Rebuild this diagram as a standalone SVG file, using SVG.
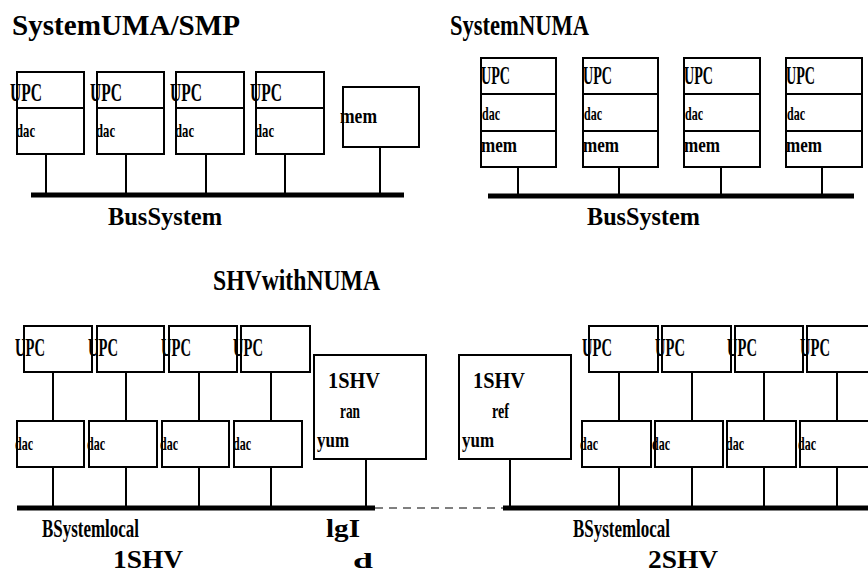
<svg xmlns="http://www.w3.org/2000/svg" width="868" height="577" viewBox="0 0 868 577">
<style>
.b{fill:#fff;stroke:#000;stroke-width:2}
.l{stroke:#000;stroke-width:2;fill:none}
.bus{stroke:#000;stroke-width:5;fill:none}
.d{stroke:#000;stroke-width:1;stroke-dasharray:8,6;fill:none}
text{font-family:"Liberation Serif","Times New Roman",serif;font-weight:bold;fill:#000}
.t{font-size:30px}
.m{font-size:26px}
.n{font-size:24px}
.s{font-size:22px}
.c{font-size:19px}
</style>
<rect width="868" height="577" fill="#fff"/>
<g id="connectors">
<line class="l" x1="46" y1="154" x2="46" y2="195"/>
<line class="l" x1="126" y1="154" x2="126" y2="195"/>
<line class="l" x1="206" y1="154" x2="206" y2="195"/>
<line class="l" x1="285" y1="154" x2="285" y2="195"/>
<line class="l" x1="380" y1="147" x2="380" y2="195"/>
<line class="bus" x1="31" y1="195" x2="404" y2="195"/>
<line class="l" x1="518" y1="167" x2="518" y2="196"/>
<line class="l" x1="619" y1="167" x2="619" y2="196"/>
<line class="l" x1="721" y1="167" x2="721" y2="196"/>
<line class="l" x1="822" y1="167" x2="822" y2="196"/>
<line class="bus" x1="488" y1="196" x2="854" y2="196"/>
<line class="l" x1="53" y1="372" x2="53" y2="508"/>
<line class="l" x1="126" y1="372" x2="126" y2="508"/>
<line class="l" x1="199" y1="372" x2="199" y2="508"/>
<line class="l" x1="271" y1="372" x2="271" y2="508"/>
<line class="l" x1="366" y1="459" x2="366" y2="508"/>
<line class="bus" x1="17" y1="508" x2="375" y2="508"/>
<line class="d" x1="375" y1="508" x2="503" y2="508"/>
<line class="l" x1="510" y1="459" x2="510" y2="508"/>
<line class="l" x1="619" y1="372" x2="619" y2="508"/>
<line class="l" x1="692" y1="372" x2="692" y2="508"/>
<line class="l" x1="764" y1="372" x2="764" y2="508"/>
<line class="l" x1="837" y1="372" x2="837" y2="508"/>
<line class="bus" x1="503" y1="508" x2="868" y2="508"/>
</g>
<g id="titles">
<text class="t" x="12" y="35" textLength="228" lengthAdjust="spacingAndGlyphs">SystemUMA/SMP</text>
<text class="t" x="450" y="35" textLength="139" lengthAdjust="spacingAndGlyphs">SystemNUMA</text>
<text class="t" x="213" y="290" textLength="167" lengthAdjust="spacingAndGlyphs">SHVwithNUMA</text>
</g>
<g id="uma-cpu1"><rect class="b" x="17" y="72" width="67" height="82"/><line class="l" x1="17" y1="108" x2="84" y2="108"/><text class="m" x="10" y="101" textLength="32" lengthAdjust="spacingAndGlyphs">UPC</text><text class="c" x="16" y="137" textLength="19" lengthAdjust="spacingAndGlyphs">dac</text></g>
<g id="uma-cpu2"><rect class="b" x="97" y="72" width="67" height="82"/><line class="l" x1="97" y1="108" x2="164" y2="108"/><text class="m" x="90" y="101" textLength="32" lengthAdjust="spacingAndGlyphs">UPC</text><text class="c" x="96" y="137" textLength="19" lengthAdjust="spacingAndGlyphs">dac</text></g>
<g id="uma-cpu3"><rect class="b" x="176" y="72" width="68" height="82"/><line class="l" x1="176" y1="108" x2="244" y2="108"/><text class="m" x="170" y="101" textLength="32" lengthAdjust="spacingAndGlyphs">UPC</text><text class="c" x="175" y="137" textLength="19" lengthAdjust="spacingAndGlyphs">dac</text></g>
<g id="uma-cpu4"><rect class="b" x="256" y="72" width="68" height="82"/><line class="l" x1="256" y1="108" x2="324" y2="108"/><text class="m" x="250" y="101" textLength="32" lengthAdjust="spacingAndGlyphs">UPC</text><text class="c" x="255" y="137" textLength="19" lengthAdjust="spacingAndGlyphs">dac</text></g>
<g id="uma-mem"><rect class="b" x="343" y="87" width="76" height="60"/><text class="s" x="340" y="123" textLength="37" lengthAdjust="spacingAndGlyphs">mem</text></g>
<g id="uma-bus"><text class="m" x="108" y="225" textLength="114" lengthAdjust="spacingAndGlyphs">BusSystem</text></g>
<g id="numa-node1"><rect class="b" x="481" y="58" width="75" height="109"/><line class="l" x1="481" y1="94" x2="556" y2="94"/><line class="l" x1="481" y1="131" x2="556" y2="131"/><text class="m" x="481" y="84" textLength="29" lengthAdjust="spacingAndGlyphs">UPC</text><text class="c" x="482" y="120" textLength="18" lengthAdjust="spacingAndGlyphs">dac</text><text class="s" x="481" y="152" textLength="36" lengthAdjust="spacingAndGlyphs">mem</text></g>
<g id="numa-node2"><rect class="b" x="583" y="58" width="75" height="109"/><line class="l" x1="583" y1="94" x2="658" y2="94"/><line class="l" x1="583" y1="131" x2="658" y2="131"/><text class="m" x="583" y="84" textLength="29" lengthAdjust="spacingAndGlyphs">UPC</text><text class="c" x="584" y="120" textLength="18" lengthAdjust="spacingAndGlyphs">dac</text><text class="s" x="583" y="152" textLength="36" lengthAdjust="spacingAndGlyphs">mem</text></g>
<g id="numa-node3"><rect class="b" x="684" y="58" width="76" height="109"/><line class="l" x1="684" y1="94" x2="760" y2="94"/><line class="l" x1="684" y1="131" x2="760" y2="131"/><text class="m" x="684" y="84" textLength="29" lengthAdjust="spacingAndGlyphs">UPC</text><text class="c" x="685" y="120" textLength="18" lengthAdjust="spacingAndGlyphs">dac</text><text class="s" x="684" y="152" textLength="36" lengthAdjust="spacingAndGlyphs">mem</text></g>
<g id="numa-node4"><rect class="b" x="786" y="58" width="76" height="109"/><line class="l" x1="786" y1="94" x2="862" y2="94"/><line class="l" x1="786" y1="131" x2="862" y2="131"/><text class="m" x="786" y="84" textLength="29" lengthAdjust="spacingAndGlyphs">UPC</text><text class="c" x="787" y="120" textLength="18" lengthAdjust="spacingAndGlyphs">dac</text><text class="s" x="786" y="152" textLength="36" lengthAdjust="spacingAndGlyphs">mem</text></g>
<g id="numa-bus"><text class="m" x="587" y="225" textLength="113" lengthAdjust="spacingAndGlyphs">BusSystem</text></g>
<g id="shv1-cpu1"><rect class="b" x="24" y="326" width="68" height="46"/><text class="m" x="15" y="356" textLength="30" lengthAdjust="spacingAndGlyphs">UPC</text></g>
<g id="shv1-cpu2"><rect class="b" x="97" y="326" width="67" height="46"/><text class="m" x="88" y="356" textLength="30" lengthAdjust="spacingAndGlyphs">UPC</text></g>
<g id="shv1-cpu3"><rect class="b" x="169" y="326" width="68" height="46"/><text class="m" x="161" y="356" textLength="30" lengthAdjust="spacingAndGlyphs">UPC</text></g>
<g id="shv1-cpu4"><rect class="b" x="241" y="326" width="69" height="46"/><text class="m" x="233" y="356" textLength="30" lengthAdjust="spacingAndGlyphs">UPC</text></g>
<g id="shv1-cache1"><rect class="b" x="17" y="421" width="67" height="46"/><text class="c" x="15" y="450" textLength="18" lengthAdjust="spacingAndGlyphs">dac</text></g>
<g id="shv1-cache2"><rect class="b" x="89" y="421" width="68" height="46"/><text class="c" x="87" y="450" textLength="18" lengthAdjust="spacingAndGlyphs">dac</text></g>
<g id="shv1-cache3"><rect class="b" x="162" y="421" width="67" height="46"/><text class="c" x="160" y="450" textLength="18" lengthAdjust="spacingAndGlyphs">dac</text></g>
<g id="shv1-cache4"><rect class="b" x="234" y="421" width="68" height="46"/><text class="c" x="233" y="450" textLength="18" lengthAdjust="spacingAndGlyphs">dac</text></g>
<g id="shv1-ram"><rect class="b" x="314" y="355" width="112" height="104"/><text class="n" x="328" y="388" textLength="52" lengthAdjust="spacingAndGlyphs">1SHV</text><text class="s" x="340" y="418" textLength="20" lengthAdjust="spacingAndGlyphs">ran</text><text class="s" x="317" y="447" textLength="32" lengthAdjust="spacingAndGlyphs">yum</text></g>
<g id="shv2-ram"><rect class="b" x="459" y="355" width="112" height="104"/><text class="n" x="473" y="388" textLength="52" lengthAdjust="spacingAndGlyphs">1SHV</text><text class="s" x="492" y="418" textLength="17" lengthAdjust="spacingAndGlyphs">ref</text><text class="s" x="462" y="447" textLength="32" lengthAdjust="spacingAndGlyphs">yum</text></g>
<g id="shv2-cpu1"><rect class="b" x="589" y="326" width="69" height="46"/><text class="m" x="582" y="356" textLength="30" lengthAdjust="spacingAndGlyphs">UPC</text></g>
<g id="shv2-cpu2"><rect class="b" x="662" y="326" width="69" height="46"/><text class="m" x="655" y="356" textLength="30" lengthAdjust="spacingAndGlyphs">UPC</text></g>
<g id="shv2-cpu3"><rect class="b" x="735" y="326" width="68" height="46"/><text class="m" x="727" y="356" textLength="30" lengthAdjust="spacingAndGlyphs">UPC</text></g>
<g id="shv2-cpu4"><rect class="b" x="807" y="326" width="70" height="46"/><text class="m" x="800" y="356" textLength="30" lengthAdjust="spacingAndGlyphs">UPC</text></g>
<g id="shv2-cache1"><rect class="b" x="582" y="421" width="69" height="46"/><text class="c" x="580" y="450" textLength="18" lengthAdjust="spacingAndGlyphs">dac</text></g>
<g id="shv2-cache2"><rect class="b" x="655" y="421" width="68" height="46"/><text class="c" x="652" y="450" textLength="18" lengthAdjust="spacingAndGlyphs">dac</text></g>
<g id="shv2-cache3"><rect class="b" x="727" y="421" width="69" height="46"/><text class="c" x="726" y="450" textLength="18" lengthAdjust="spacingAndGlyphs">dac</text></g>
<g id="shv2-cache4"><rect class="b" x="800" y="421" width="75" height="46"/><text class="c" x="798" y="450" textLength="18" lengthAdjust="spacingAndGlyphs">dac</text></g>
<g id="shv-labels">
<text class="m" x="42" y="537" textLength="97" lengthAdjust="spacingAndGlyphs">BSystemlocal</text>
<text class="m" x="113" y="568" textLength="70" lengthAdjust="spacingAndGlyphs">1SHV</text>
<text class="m" x="326" y="537" textLength="34" lengthAdjust="spacingAndGlyphs">lgI</text>
<text class="s" x="353" y="568" textLength="20" lengthAdjust="spacingAndGlyphs">d</text>
<text class="m" x="573" y="537" textLength="97" lengthAdjust="spacingAndGlyphs">BSystemlocal</text>
<text class="m" x="648" y="568" textLength="70" lengthAdjust="spacingAndGlyphs">2SHV</text>
</g>
</svg>
